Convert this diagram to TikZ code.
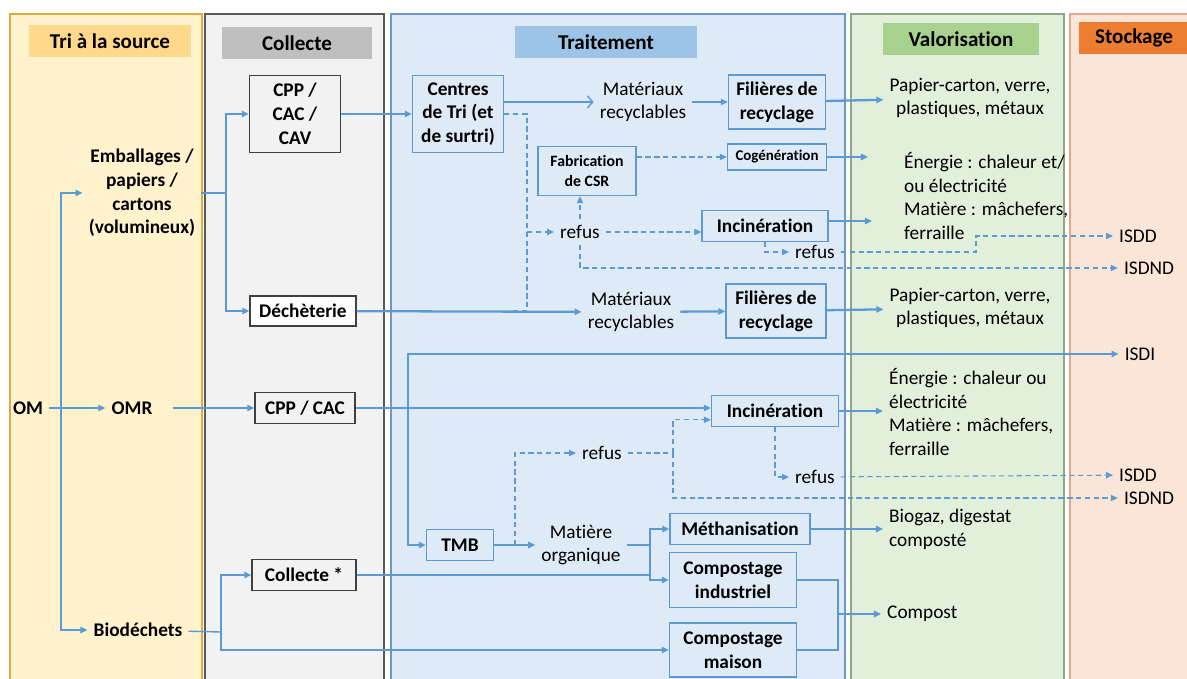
\documentclass[tikz,border=0pt]{standalone}
\usepackage{fontspec}
\setmainfont{Carlito}[Ligatures=NoCommon]
\usetikzlibrary{arrows.meta}
\definecolor{flow}{HTML}{5B9BD5}
\definecolor{triF}{HTML}{FFF2CC}
\definecolor{triB}{HTML}{D9AE3F}
\definecolor{triH}{HTML}{FFD88C}
\definecolor{colF}{HTML}{F2F2F2}
\definecolor{colB}{HTML}{595959}
\definecolor{colH}{HTML}{BFBFBF}
\definecolor{traF}{HTML}{DEEBF7}
\definecolor{traB}{HTML}{6E96C6}
\definecolor{traH}{HTML}{9DC3E6}
\definecolor{valF}{HTML}{E2EFDA}
\definecolor{valB}{HTML}{8FA884}
\definecolor{valH}{HTML}{A9D18E}
\definecolor{stoF}{HTML}{FBE5D6}
\definecolor{stoB}{HTML}{E3A68A}
\definecolor{stoH}{HTML}{ED7D31}
\newcommand{\bodyfont}{\fontsize{11}{13.5}\selectfont}

\begin{document}
\begin{tikzpicture}[x=0.02cm,y=-0.02cm,font=\bodyfont,>={Triangle[length=4pt,width=3.6pt]}]
% Styles
\tikzstyle{head}=[font=\fontsize{12}{14}\selectfont\bfseries, minimum height=0.66cm, inner sep=0pt]
\tikzstyle{cbox}=[draw=black!75, line width=0.8pt, align=center, font=\bodyfont\bfseries, inner sep=2pt]
\tikzstyle{tbox}=[draw=flow, line width=0.8pt, align=center, font=\bodyfont\bfseries, inner sep=2pt]
\tikzstyle{lbl}=[align=center, font=\bodyfont\bfseries]
\tikzstyle{txt}=[align=center]
\tikzstyle{fl}=[draw=flow, line width=0.8pt]
\tikzstyle{flb}=[draw=flow, line width=1.3pt]
\tikzstyle{dsh}=[draw=flow, line width=0.6pt, dash pattern=on 3pt off 2pt]

\useasboundingbox (0,0) rectangle (1187,679);

% columns and headers
\foreach \xa/\xb/\cf/\cb in {10/202/triF/triB, 205/384/colF/colB, 391/845/traF/traB, 851/1064/valF/valB, 1070/1200/stoF/stoB}
  \draw[draw=\cb, fill=\cf, line width=0.8pt] (\xa,14) rectangle (\xb,690);
\foreach \n/\x/\y/\w/\c/\t in {tri/110/41/3.26/triH/Tri à la source, col/297/43/3.02/colH/Collecte, tra/606/42/3.64/traH/Traitement, val/961/39/3.12/valH/Valorisation, sto/1134/38/2.2/stoH/Stockage}
  \node[head, fill=\c, minimum width=\w cm] (h\n) at (\x,\y) {\t};

% tri a la source
\node[lbl] (om) at (28,408) {OM};
\node[lbl] (omr) at (132,408) {OMR};
\node[lbl] (emb) at (142,193) {Emballages /\\papiers /\\cartons\\(volumineux)};
\node[lbl] (bio) at (138,630) {Biodéchets};

% collecte
\node[cbox, minimum width=1.82cm, minimum height=1.54cm] (cpp3) at (295,114) {CPP /\\CAC /\\CAV};
\node[cbox, fill=white, minimum width=2.12cm, minimum height=0.6cm] (dech) at (303,311) {Déchèterie};
\node[cbox, minimum width=2cm, minimum height=0.62cm] (cpp2) at (305,408) {CPP / CAC};
\node[cbox, minimum width=2.08cm, minimum height=0.62cm] (coll) at (304,575) {Collecte *};

% traitement
\node[tbox, minimum width=1.82cm, minimum height=1.54cm] (ctri) at (458,114) {Centres\\de Tri (et\\de surtri)};
\node[txt] (mat1) at (643,102) {Matériaux\\recyclables};
\node[tbox, minimum width=1.94cm, minimum height=1.08cm] (fil1) at (777,102) {Filières de\\recyclage};
\node[tbox, font=\fontsize{9}{11}\selectfont\bfseries, minimum width=1.96cm, minimum height=0.98cm] (csr) at (587,171) {Fabrication\\de CSR};
\node[tbox, font=\fontsize{8.5}{10}\selectfont\bfseries, minimum width=1.98cm, minimum height=0.52cm] (cogen) at (777,157) {Cogénération};
\node[tbox, minimum width=2.52cm, minimum height=0.62cm] (inc1) at (765,226) {Incinération};
\node[txt] (ref1) at (580,232) {refus};
\node[txt] (ref2) at (815,252) {refus};
\node[txt] (mat2) at (631,312) {Matériaux\\recyclables};
\node[tbox, minimum width=2cm, minimum height=1.08cm] (fil2) at (776,311) {Filières de\\recyclage};
\node[tbox, minimum width=2.54cm, minimum height=0.62cm] (inc2) at (775,411) {Incinération};
\node[txt] (ref3) at (602,453) {refus};
\node[txt] (ref4) at (815,477) {refus};
\node[tbox, minimum width=1.34cm, minimum height=0.62cm] (tmb) at (460,545) {TMB};
\node[txt] (mato) at (581,545) {Matière\\organique};
\node[tbox, minimum width=2.8cm, minimum height=0.62cm] (meth) at (740,529) {Méthanisation};
\node[tbox, minimum width=2.54cm, minimum height=1.1cm] (compI) at (733,580) {Compostage\\industriel};
\node[tbox, minimum width=2.54cm, minimum height=1.08cm] (compM) at (733,650) {Compostage\\maison};

% valorisation
\node[txt] (val1) at (970,98) {Papier-carton, verre,\\plastiques, métaux};
\node[align=left, anchor=west] (val2) at (898,196) {Énergie : chaleur et/\\ou électricité\\Matière : mâchefers,\\ferraille};
\node[txt] (val3) at (970,308) {Papier-carton, verre,\\plastiques, métaux};
\node[align=left, anchor=west] (val4) at (883,412) {Énergie : chaleur ou\\électricité\\Matière : mâchefers,\\ferraille};
\node[align=left, anchor=west] (val5) at (883,529) {Biogaz, digestat\\composté};
\node[anchor=west] (val6) at (881,614) {Compost};

% stockage
\node (isdd1) at (1138,236) {ISDD};
\node (isdnd1) at (1149,268) {ISDND};
\node (isdi) at (1140,354) {ISDI};
\node (isdd2) at (1138,475) {ISDD};
\node (isdnd2) at (1149,498) {ISDND};

% junctions
\coordinate (trunk) at (61,408);
\coordinate (s1) at (226,193);
\coordinate (s2) at (221,632);
\coordinate (d1) at (527,232);
\coordinate (e1) at (868,157);
\coordinate (e2) at (872,221);
\coordinate (j2) at (408,408);
\coordinate (j3) at (515,545);
\coordinate (j4) at (673,453);
\coordinate (j5) at (650,545);
\coordinate (j6) at (838,614);

% connectors
\draw[fl,->] (om) -- (omr);
\draw[fl,->] (trunk) |- (emb.west);
\draw[fl,->] (trunk) |- (bio.west);
\draw[fl] (emb.east) -- (s1);
\draw[fl,->] (s1) |- (cpp3);
\draw[fl,->] (s1) |- (dech);
\draw[fl,->,shorten <=8pt] (omr) -- (cpp2);
\draw[fl] (bio) -- (s2);
\draw[fl,->] (s2) |- (coll);
\draw[fl,->] (s2) |- (compM);

\draw[flb,->] (cpp3) -- (ctri);
\draw[fl,-{Straight Barb[length=3pt,width=7pt]}] (ctri.east |- mat1) -- (mat1.west);
\draw[flb,->] (mat1) -- (fil1);
\draw[flb,->] (fil1) -- (val1);
\draw[dsh] (ctri.east) -| (527,311) -- (512,311);
\draw[dsh,->] (d1) -- (ref1);
\draw[dsh,->] (ref1) -- (inc1.west |- ref1);
\draw[dsh,->] (ref1) -- (ref1 |- csr.south);
\draw[dsh,->] (ref1.south) |- (isdnd1);
\draw[dsh,->] (csr.east |- cogen) -- (cogen);
\draw[fl,->] (cogen) -- (e1);
\draw[fl,->] (inc1.east |- e2) -- (e2);
\draw[dsh,->] (inc1.south) |- (ref2);
\draw[dsh,->] (ref2.east) -- (976,252) |- (isdd1);

\draw[flb,->] (dech) -- (mat2);
\draw[flb,->] (mat2) -- (fil2);
\draw[flb,->] (fil2) -- (val3);

\draw[fl,->] (cpp2) -- (inc2.west |- cpp2);
\draw[fl,->] (j2) |- (isdi);
\draw[fl,->] (j2) |- (tmb);
\draw[fl,->] (inc2.east) -- (inc2.east -| val4.west);
\draw[dsh,->] (j3) |- (ref3);
\draw[dsh] (ref3) -- (j4);
\draw[dsh,->] (j4) |- ([yshift=-5pt]inc2.west);
\draw[dsh,->] (j4) |- (isdnd2);
\draw[dsh,->] (inc2.south) |- (ref4);
\draw[dsh,->] (ref4) -- (isdd2);

\draw[fl,->] (tmb) -- (mato);
\draw[flb] (mato) -- (j5);
\draw[flb] (coll) -- (coll -| j5);
\draw[flb,->] (j5) |- (meth);
\draw[flb,->] (j5) |- (compI);
\draw[fl,->] (meth.east) -- (meth.east -| val5.west);
\draw[fl] (compI) -| (j6) |- (compM);
\draw[fl,->] (j6) -- (val6);

\end{tikzpicture}
\end{document}
